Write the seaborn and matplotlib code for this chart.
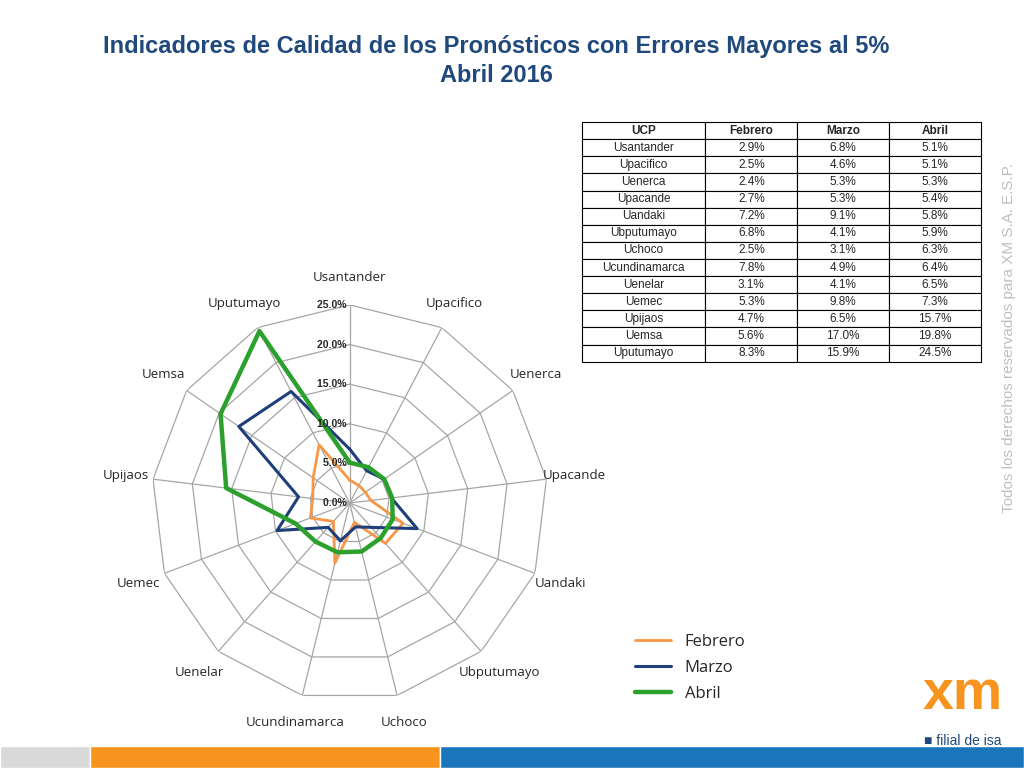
import numpy as np
import pandas as pd
import matplotlib
matplotlib.use("Agg")
import matplotlib.pyplot as plt
import seaborn as sns

sns.set_style("white")
plt.rcParams["font.family"] = "Liberation Sans"

ucp = ["Usantander", "Upacifico", "Uenerca", "Upacande", "Uandaki", "Ubputumayo",
       "Uchoco", "Ucundinamarca", "Uenelar", "Uemec", "Upijaos", "Uemsa", "Uputumayo"]
febrero = [2.9, 2.5, 2.4, 2.7, 7.2, 6.8, 2.5, 7.8, 3.1, 5.3, 4.7, 5.6, 8.3]
marzo = [6.8, 4.6, 5.3, 5.3, 9.1, 4.1, 3.1, 4.9, 4.1, 9.8, 6.5, 17.0, 15.9]
abril = [5.1, 5.1, 5.3, 5.4, 5.8, 5.9, 6.3, 6.4, 6.5, 7.3, 15.7, 19.8, 24.5]
r_ticks = [0, 5, 10, 15, 20, 25]

series = {"Febrero": (febrero, "#F79646", 2.0),
          "Marzo": (marzo, "#1F3F7A", 2.2),
          "Abril": (abril, "#2CA02C", 3.2)}

fig = plt.figure(figsize=(10.24, 7.68), dpi=100)

# title
fig.text(0.485, 0.94, "Indicadores de Calidad de los Pronósticos con Errores Mayores al 5%",
         ha="center", va="center", fontsize=17, fontweight="bold", color="#1F497D")
fig.text(0.485, 0.902, "Abril 2016", ha="center", va="center", fontsize=17,
         fontweight="bold", color="#1F497D")

# radar
ax = fig.add_axes([0.148, 0.087, 0.387, 0.516], projection="polar")
n = len(ucp)
theta = np.arange(n) * 2 * np.pi / n
ax.set_theta_zero_location("N")
ax.set_theta_direction(-1)
ax.set_ylim(0, 25)
ax.grid(False)
ax.spines["polar"].set_visible(False)
ax.set_xticks([])
ax.set_yticks([])
tc = np.append(theta, theta[0])
for r in r_ticks[1:]:
    ax.plot(tc, [r] * (n + 1), color="#A6A6A6", lw=0.9)
for t in theta:
    ax.plot([t, t], [0, 25], color="#A6A6A6", lw=0.9)
for r in r_ticks:
    ax.text(0, r, f"{r:.1f}% ", ha="right", va="center", fontsize=7.5, fontweight="bold")
for t, name in zip(theta, ucp):
    ax.text(t, 28.5, name, ha="center", va="center", fontsize=9.5, family="Open Sans")
for label, (vals, col, lw) in series.items():
    ax.plot(tc, vals + [vals[0]], color=col, lw=lw, label=label)
leg = fig.legend(loc="center left", bbox_to_anchor=(0.605, 0.13), frameon=False,
                 prop={"family": "Open Sans", "size": 12}, handlelength=2.2, labelspacing=0.6)

# table
df = pd.DataFrame({"UCP": ucp,
                   "Febrero": [f"{v:.1f}%" for v in febrero],
                   "Marzo": [f"{v:.1f}%" for v in marzo],
                   "Abril": [f"{v:.1f}%" for v in abril]})
tax = fig.add_axes([0.568, 0.529, 0.39, 0.312])
tax.axis("off")
tbl = tax.table(cellText=df.values, colLabels=df.columns, bbox=[0, 0, 1, 1],
                cellLoc="center", colWidths=[0.31, 0.23, 0.23, 0.23])
tbl.auto_set_font_size(False)
tbl.set_fontsize(8.5)
for (i, j), c in tbl.get_celld().items():
    c.set_linewidth(0.8)
    if i == 0:
        c.set_text_props(fontweight="bold")

# side text
fig.text(0.985, 0.56, "Todos los derechos reservados para XM S.A. E.S.P.", rotation=90,
         ha="center", va="center", fontsize=11, color="#BFBFBF")

# footer stripes
bax = fig.add_axes([0, 0, 1, 0.028])
bax.axis("off")
bax.set_xlim(0, 1024)
bax.set_ylim(0, 1)
bax.barh(0.5, 90, left=0, height=1, color="#D9D9D9")
bax.barh(0.5, 350, left=90, height=1, color="#F7941D")
bax.barh(0.5, 584, left=440, height=1, color="#1B75BB")
fig.text(0.94, 0.095, "xm", ha="center", va="center", fontsize=40, fontweight="bold", color="#F7941D")
fig.text(0.94, 0.035, "■ filial de isa", ha="center", va="center", fontsize=10, color="#1F497D")

fig.savefig("out.png", dpi=100)
